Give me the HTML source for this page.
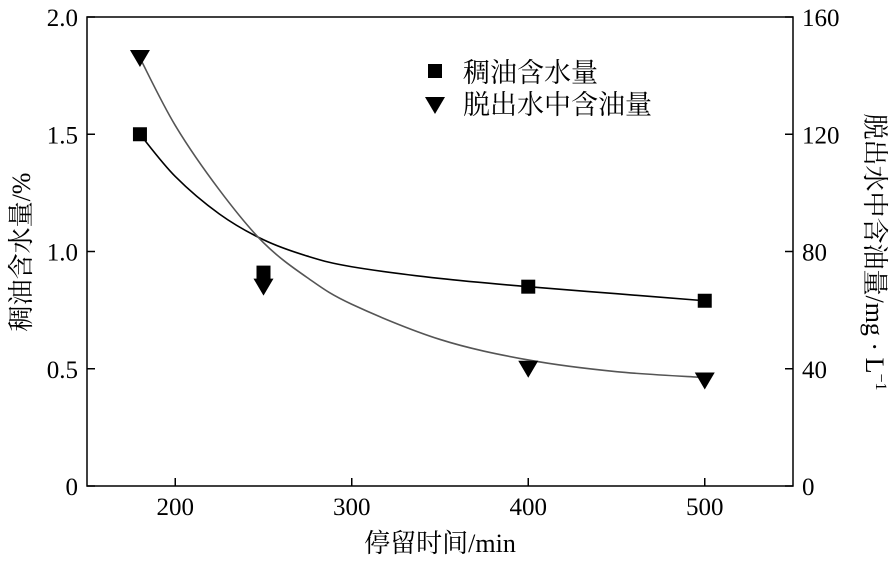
<!DOCTYPE html>
<html><head><meta charset="utf-8">
<style>
html,body{margin:0;padding:0;background:#fff;}
svg{display:block;font-family:"Liberation Serif","Noto Serif CJK SC",serif;}
</style></head>
<body>
<svg id="chart" width="893" height="562"></svg>
<script>
const xCats = [180, 250, 400, 500];
const waterContent = [1.5, 0.91, 0.85, 0.79];
const oilInWater = [146, 68, 40, 36];
const curveX = [180, 200, 225, 250, 275, 300, 350, 400, 450, 500];
const waterFit = [1.5, 1.32, 1.16, 1.05, 0.98, 0.935, 0.885, 0.85, 0.82, 0.79];
const oilFit = [146, 123, 101, 83, 71, 62, 50, 43, 39, 37];
const xTicks = [200, 300, 400, 500];
const yLeftTicks = [0, 0.5, 1.0, 1.5, 2.0];
const yLeftLabels = ["0", "0.5", "1.0", "1.5", "2.0"];
const yRightTicks = [0, 40, 80, 120, 160];

const NS = "http://www.w3.org/2000/svg";
const svg = document.getElementById('chart');
const L = 87, R = 793, T = 17, B = 486;
const sx = v => L + (v - 150) / 400 * (R - L);
const syL = v => B - v / 2 * (B - T);
const syR = v => B - v / 160 * (B - T);
function mk(tag, attrs, parent) {
  const e = document.createElementNS(NS, tag);
  for (const k in attrs) e.setAttribute(k, attrs[k]);
  (parent || svg).appendChild(e);
  return e;
}
function txt(s, attrs) { const t = mk('text', attrs); t.textContent = s; return t; }

const frame = mk('rect', {x: L, y: T, width: R - L, height: B - T, fill: 'none', stroke: '#000', 'stroke-width': 1.5});



xTicks.forEach(v => {
  const l = mk('line', {x1: sx(v), x2: sx(v), y1: B, y2: B - 8, stroke: '#000', 'stroke-width': 1.5});
  
  
  const t = txt(String(v), {x: sx(v), y: B + 29, 'text-anchor': 'middle', 'font-size': 25});
  
  
});
yLeftTicks.forEach((v, i) => {
  const l = mk('line', {x1: L, x2: L + 8, y1: syL(v), y2: syL(v), stroke: '#000', 'stroke-width': 1.5});
  
  
  const t = txt(yLeftLabels[i], {x: L - 9, y: syL(v) + 9, 'text-anchor': 'end', 'font-size': 25});
  
  
});
yRightTicks.forEach(v => {
  const l = mk('line', {x1: R, x2: R - 8, y1: syR(v), y2: syR(v), stroke: '#000', 'stroke-width': 1.5});
  
  
  const t = txt(String(v), {x: R + 9, y: syR(v) + 9, 'text-anchor': 'start', 'font-size': 25});
  
  
});

const xt = txt('停留时间/min', {x: 440, y: 552, 'text-anchor': 'middle', 'font-size': 26});


const yl = txt('稠油含水量/%', {x: 0, y: 0, 'text-anchor': 'middle', 'font-size': 26, transform: 'translate(30,252) rotate(-90)'});


const yr = mk('text', {x: 0, y: 0, 'text-anchor': 'middle', 'font-size': 26, transform: 'translate(866,252) rotate(90)'});
yr.innerHTML = '脱出水中含油量/mg · L<tspan dy="-10" font-size="16">−1</tspan>';



function smooth(pts) {
  let d = 'M' + pts[0][0] + ',' + pts[0][1];
  for (let i = 0; i < pts.length - 1; i++) {
    const p0 = pts[Math.max(0, i - 1)], p1 = pts[i], p2 = pts[i + 1], p3 = pts[Math.min(pts.length - 1, i + 2)];
    const c1 = [p1[0] + (p2[0] - p0[0]) / 6, p1[1] + (p2[1] - p0[1]) / 6];
    const c2 = [p2[0] - (p3[0] - p1[0]) / 6, p2[1] - (p3[1] - p1[1]) / 6];
    d += 'C' + c1 + ' ' + c2 + ' ' + p2;
  }
  return d;
}
const c1 = mk('path', {d: smooth(curveX.map((x, i) => [sx(x), syL(waterFit[i])])), fill: 'none', stroke: '#000', 'stroke-width': 1.6});


const c2 = mk('path', {d: smooth(curveX.map((x, i) => [sx(x), syR(oilFit[i])])), fill: 'none', stroke: '#555', 'stroke-width': 1.6});



xCats.forEach((x, i) => {
  const s = mk('rect', {x: sx(x) - 7, y: syL(waterContent[i]) - 7, width: 14, height: 14, fill: '#000'});
  
  
  const cx = sx(x), cy = syR(oilInWater[i]);
  const t = mk('polygon', {points: `${cx - 10},${cy - 8} ${cx + 10},${cy - 8} ${cx},${cy + 9}`, fill: '#000'});
  
  
});

const lg = mk('g', {});


const ls = mk('rect', {x: 428, y: 64, width: 14, height: 14, fill: '#000'}, lg);


const lt1 = mk('text', {x: 463, y: 82, 'font-size': 27}, lg);
lt1.textContent = '稠油含水量';


const lp = mk('polygon', {points: '425,97 445,97 435,114', fill: '#000'}, lg);


const lt2 = mk('text', {x: 463, y: 114, 'font-size': 27}, lg);
lt2.textContent = '脱出水中含油量';


</script>
</body></html>
